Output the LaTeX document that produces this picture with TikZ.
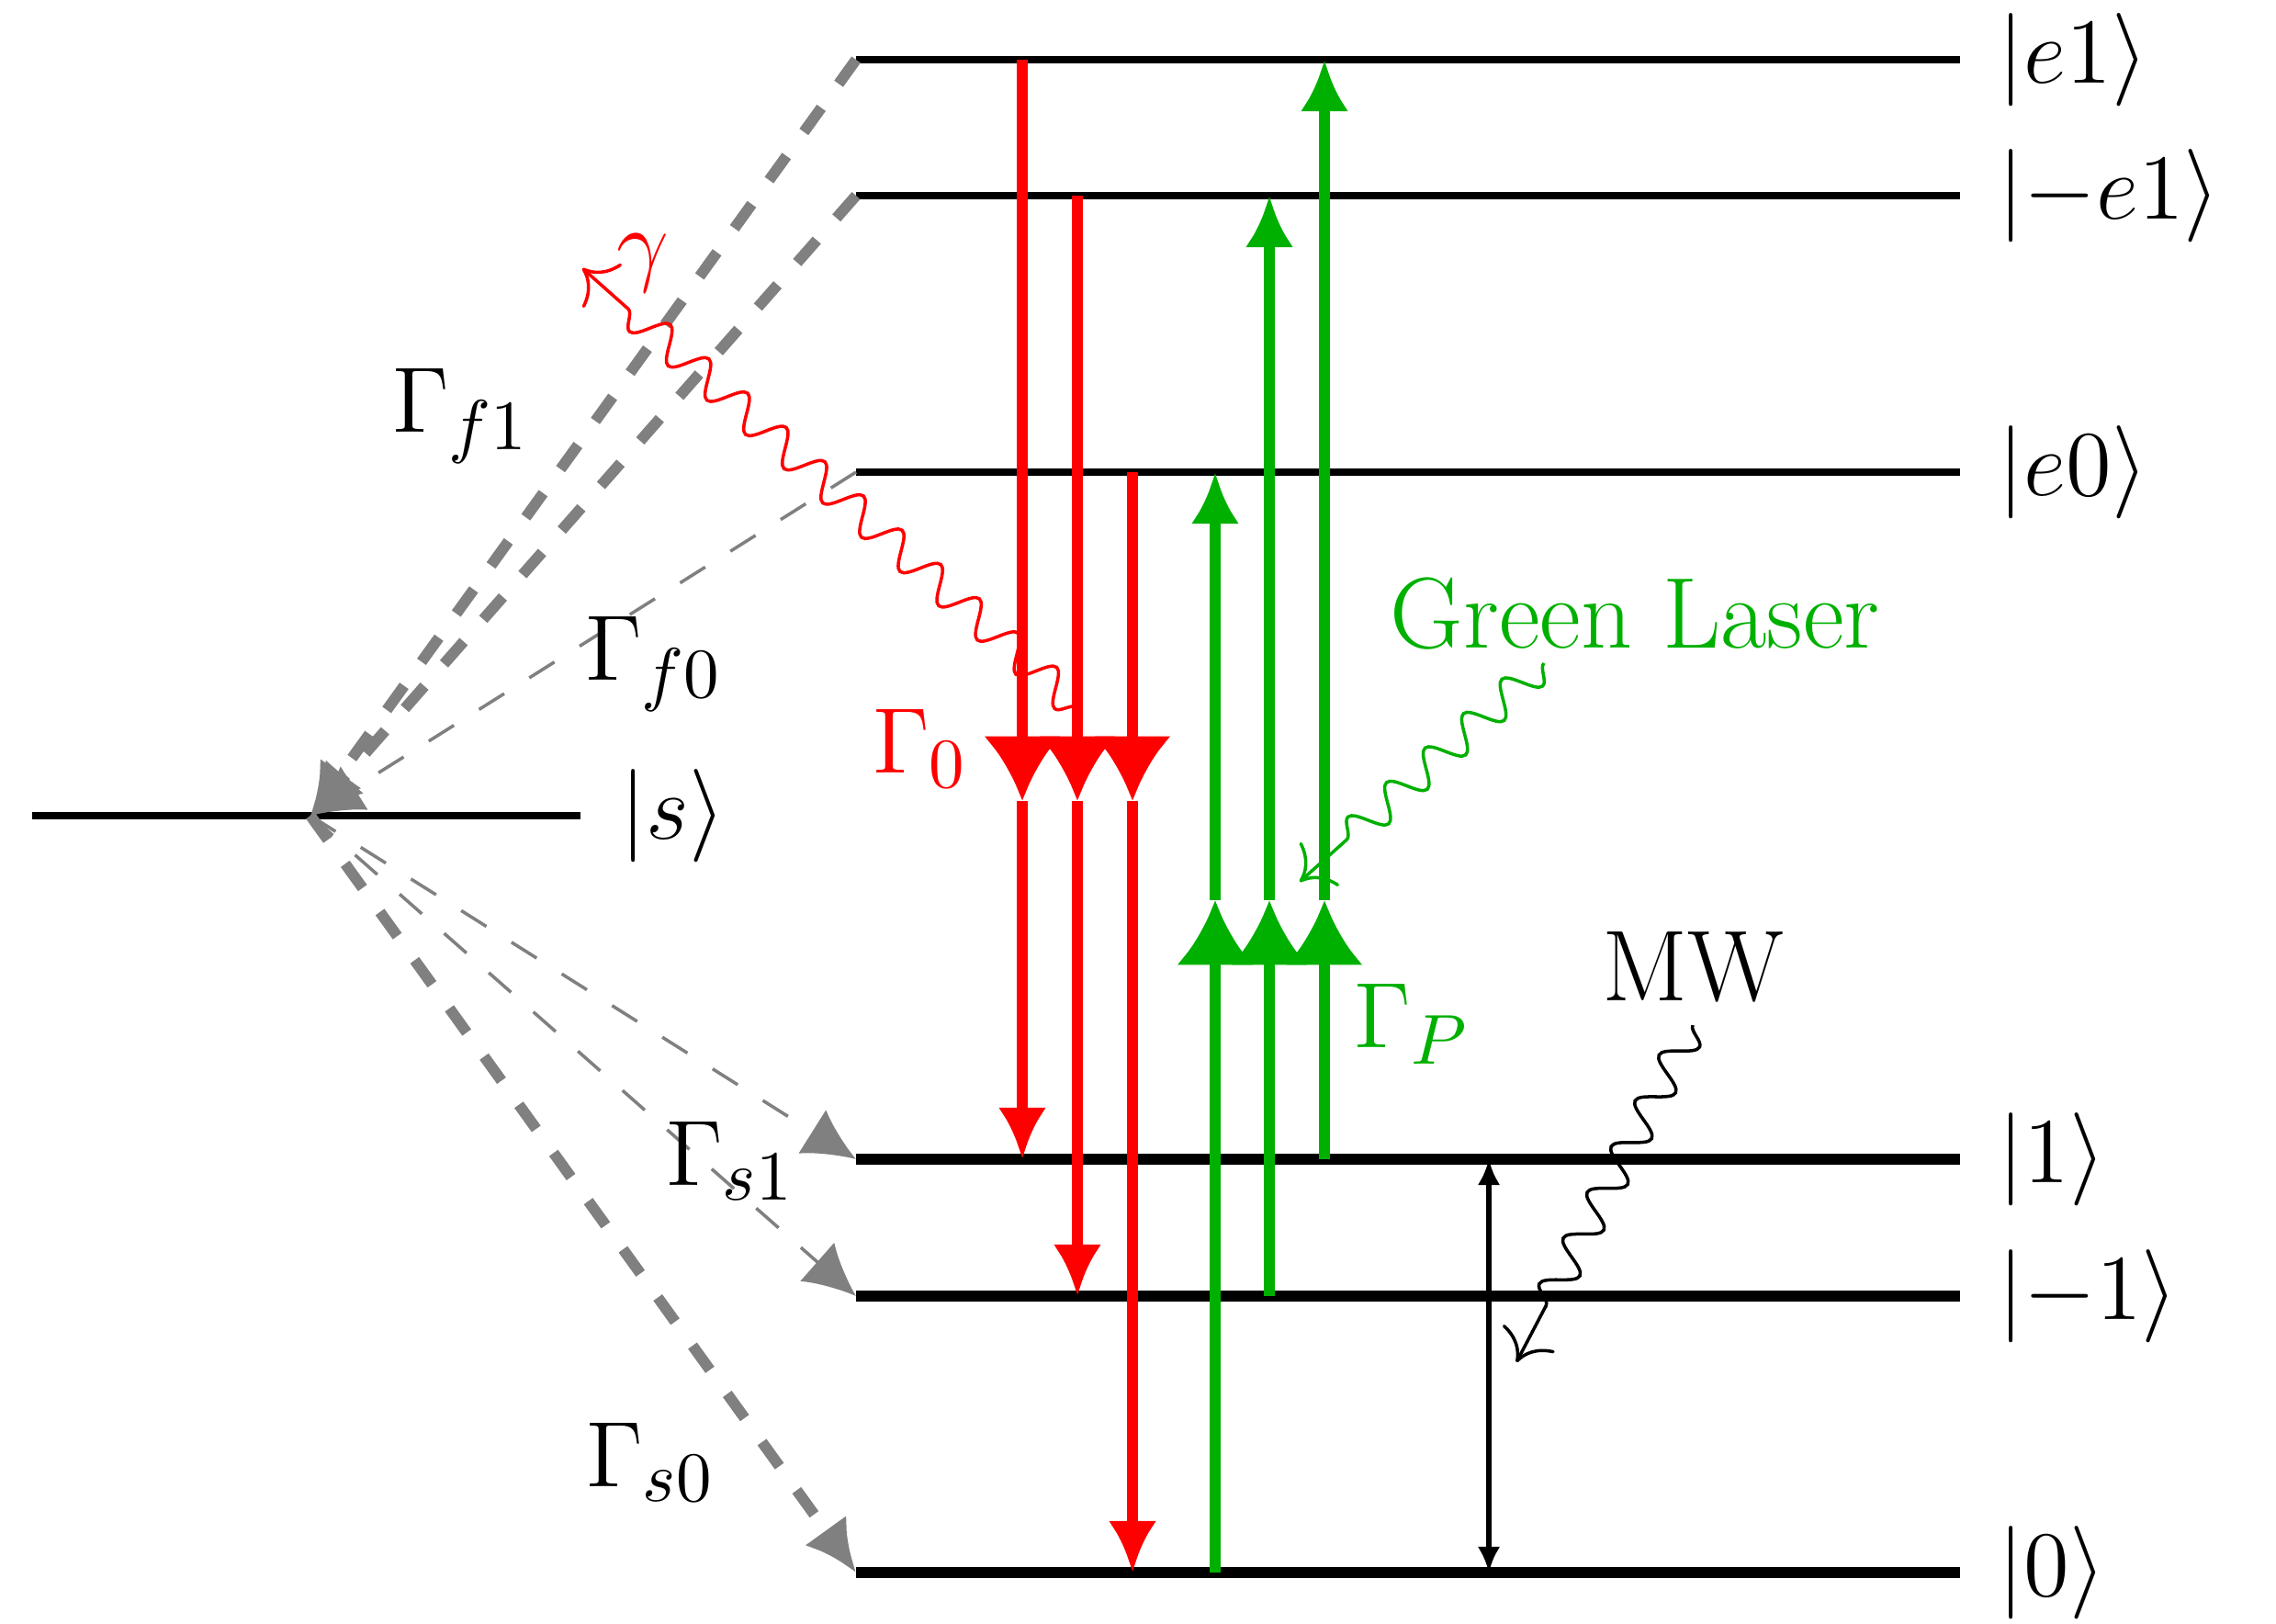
\documentclass[tikz,border=0pt]{standalone}
\usepackage{amsmath,amssymb}
\usepackage{xcolor}
\usepackage{tikz}
\usetikzlibrary{arrows.meta, decorations.pathmorphing, calc}
\definecolor{decayred}{RGB}{255, 0, 0}
\definecolor{pumpgreen}{RGB}{0, 176, 0}
\definecolor{iscgray}{RGB}{128, 128, 128}

\begin{document}
\begin{tikzpicture}[font=\fontsize{15.6}{18}\selectfont,
  level/.style={line width=1.1pt},
  lowlevel/.style={line width=1.6pt},
  ket/.style={anchor=west, inner sep=0pt},
  iscthick/.style={iscgray, line width=1.7pt, dash pattern=on 4.6pt off 4.6pt, -{Latex[length=8pt,width=8pt]}},
  iscthin/.style={iscgray, line width=0.5pt, dash pattern=on 4.6pt off 4.6pt, -{Latex[length=8pt,width=8pt]}},
  decay/.style={decayred, line width=1.8pt},
  pump/.style={pumpgreen, line width=1.8pt},
  bigtip/.style={-{Latex[length=10pt,width=12pt]}},
  smalltip/.style={-{Latex[length=8pt,width=7.5pt]}},
  photon/.style={line width=0.5pt, -{To[scale=1.6]}, decorate,
    decoration={snake, amplitude=2.5pt, segment length=8pt, post length=2.5mm}}]
  \useasboundingbox (0,0) rectangle (12.39,8.835);
  % level ends
  \coordinate (e1L) at (4.66,8.51);   \coordinate (e1R) at (10.67,8.51);
  \coordinate (me1L) at (4.66,7.77);  \coordinate (me1R) at (10.67,7.77);
  \coordinate (e0L) at (4.66,6.265);  \coordinate (e0R) at (10.67,6.265);
  \coordinate (sL) at (0.175,4.395);  \coordinate (sR) at (3.16,4.395);
  \coordinate (sC) at (1.69,4.395);
  \coordinate (oneL) at (4.66,2.525); \coordinate (oneR) at (10.67,2.525);
  \coordinate (moneL) at (4.66,1.78); \coordinate (moneR) at (10.67,1.78);
  \coordinate (zeroL) at (4.66,0.275);\coordinate (zeroR) at (10.67,0.275);
  % columns of the transitions
  \coordinate (r1) at (5.565,0); \coordinate (r2) at (5.865,0); \coordinate (r3) at (6.165,0);
  \coordinate (g1) at (6.615,0); \coordinate (g2) at (6.91,0);  \coordinate (g3) at (7.21,0);
  \coordinate (mw) at (8.105,0);
  \coordinate (redmid) at (0,4.475);
  \coordinate (greenmid) at (0,3.935);
  % levels
  \draw[level] (e1L) -- (e1R);
  \draw[level] (me1L) -- (me1R);
  \draw[level] (e0L) -- (e0R);
  \draw[level] (sL) -- (sR);
  \draw[lowlevel] (oneL) -- (oneR);
  \draw[lowlevel] (moneL) -- (moneR);
  \draw[lowlevel] (zeroL) -- (zeroR);
  \node[ket] (ke1) at (10.87,8.51) {$|e1\rangle$};
  \node[ket] (kme1) at (10.87,7.77) {$|{-e1}\rangle$};
  \node[ket] (ke0) at (10.87,6.265) {$|e0\rangle$};
  \node[ket] (ks) at (3.37,4.395) {$|s\rangle$};
  \node[ket] (kone) at (10.87,2.525) {$|1\rangle$};
  \node[ket] (kmone) at (10.87,1.78) {$|{-1}\rangle$};
  \node[ket] (kzero) at (10.87,0.275) {$|0\rangle$};
  % intersystem crossing
  \draw[iscthick] (e1L) -- (sC);
  \draw[iscthick] (me1L) -- (sC);
  \draw[iscthin] (e0L) -- (sC);
  \draw[iscthin] (sC) -- (oneL);
  \draw[iscthin] (sC) -- (moneL);
  \draw[iscthick] (sC) -- (zeroL);
  \node (Gf1) at (2.51,6.57) {$\Gamma_{f1}$};
  \node (Gf0) at (3.56,5.22) {$\Gamma_{f0}$};
  \node (Gs1) at (3.975,2.515) {$\Gamma_{s1}$};
  \node (Gs0) at (3.54,0.875) {$\Gamma_{s0}$};
  % red decay
  \draw[decay, bigtip] (r1 |- e1L) -- (r1 |- redmid);
  \draw[decay, smalltip] (r1 |- redmid) -- (r1 |- oneL);
  \draw[decay, bigtip] (r2 |- me1L) -- (r2 |- redmid);
  \draw[decay, smalltip] (r2 |- redmid) -- (r2 |- moneL);
  \draw[decay, bigtip] (r3 |- e0L) -- (r3 |- redmid);
  \draw[decay, smalltip] (r3 |- redmid) -- (r3 |- zeroL);
  \node[decayred] (G0) at (5.01,4.76) {$\Gamma_0$};
  % green pumping
  \draw[pump, bigtip] (g1 |- zeroL) -- (g1 |- greenmid);
  \draw[pump, smalltip] (g1 |- greenmid) -- (g1 |- e0L);
  \draw[pump, bigtip] (g2 |- moneL) -- (g2 |- greenmid);
  \draw[pump, smalltip] (g2 |- greenmid) -- (g2 |- me1L);
  \draw[pump, bigtip] (g3 |- oneL) -- (g3 |- greenmid);
  \draw[pump, smalltip] (g3 |- greenmid) -- (g3 |- e1L);
  \node[pumpgreen] (GP) at (7.685,3.26) {$\Gamma_P$};
  % microwave
  \draw[line width=0.8pt, {Latex[length=4pt,width=3.5pt]}-{Latex[length=4pt,width=3.5pt]}] (mw |- oneL) -- (mw |- zeroL);
  % photons
  \node[decayred] (gamma) at (3.5,7.4) {$\gamma$};
  \coordinate (gamstart) at (5.865,4.985);
  \coordinate (gamend) at (3.17,7.375);
  \draw[photon, decayred] (gamstart) -- (gamend);
  \node[pumpgreen] (laser) at (8.9,5.495) {Green Laser};
  \coordinate (laserstart) at (8.405,5.225);
  \coordinate (laserend) at (7.075,4.035);
  \draw[photon, pumpgreen] (laserstart) -- (laserend);
  \node (mwlabel) at (9.215,3.57) {MW};
  \coordinate (mwend) at (8.255,1.42);
  \draw[photon] (mwlabel.south) -- (mwend);
\end{tikzpicture}
\end{document}
